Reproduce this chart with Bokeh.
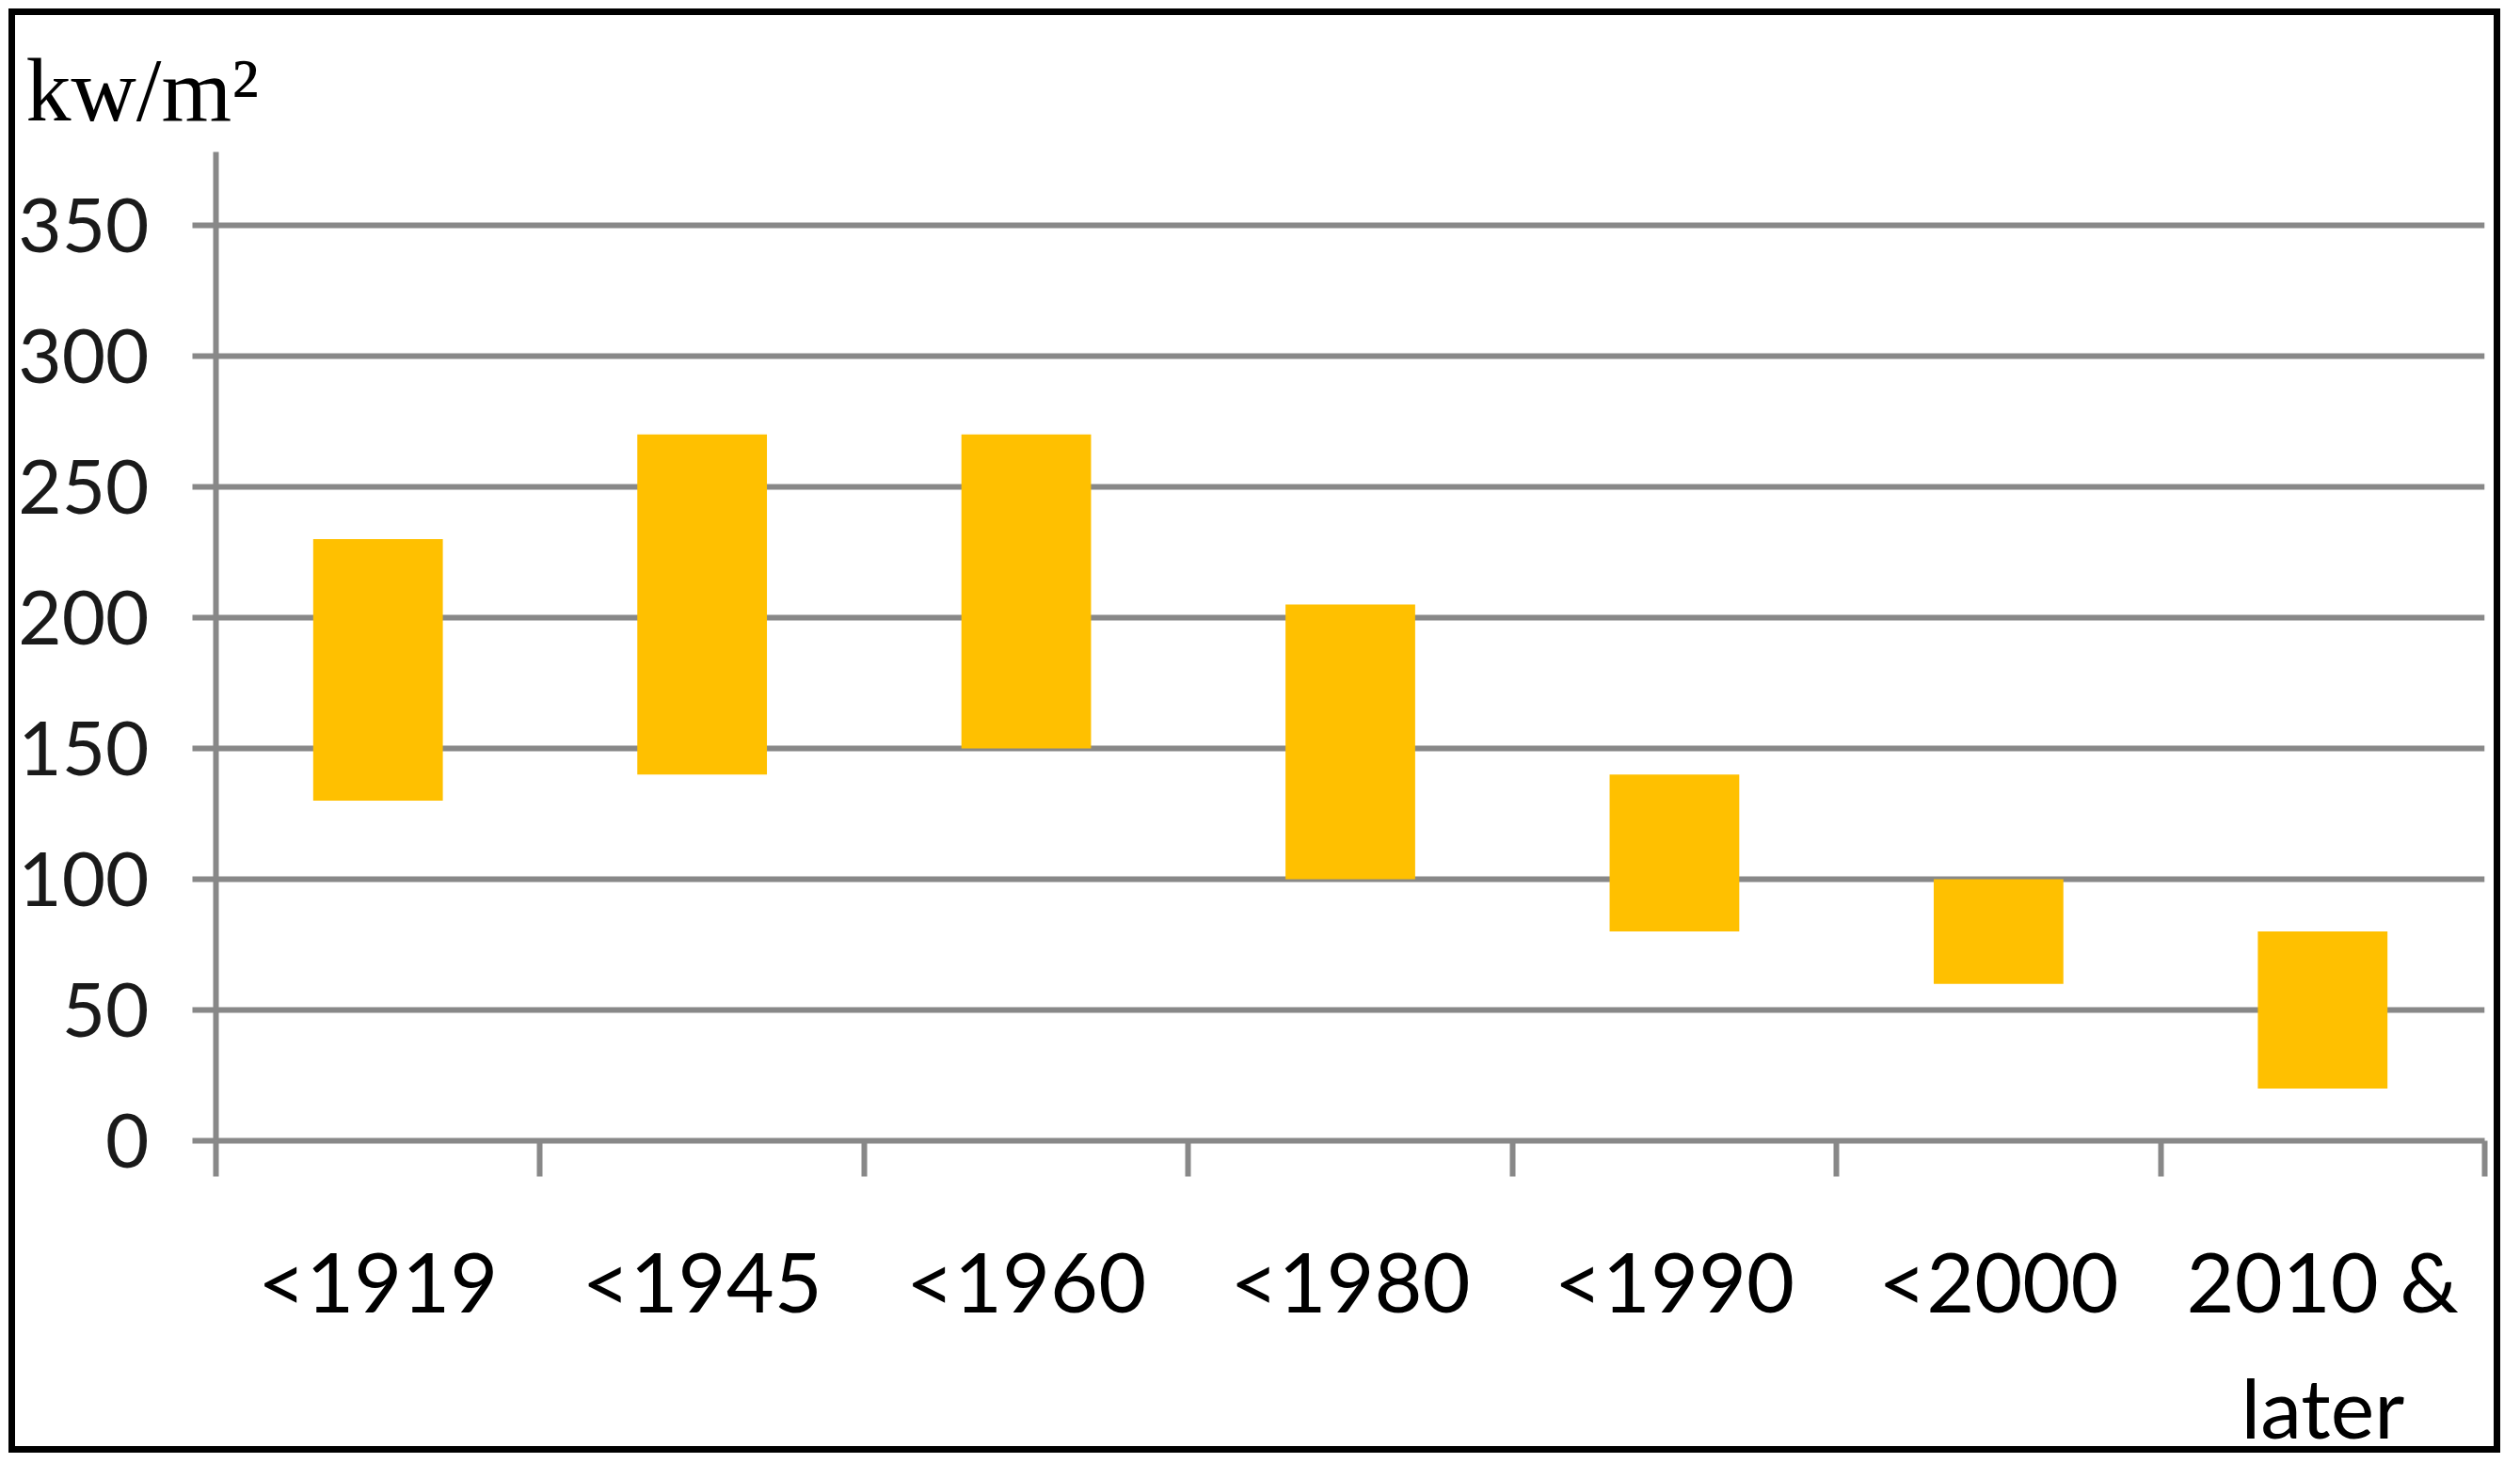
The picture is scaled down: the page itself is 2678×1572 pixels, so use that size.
from bokeh.plotting import figure
from bokeh.models import Range1d, FixedTicker, Title
from bokeh.embed import file_html
from bokeh.resources import INLINE

# ---- data ----
categories = ["<1919", "<1945", "<1960", "<1980", "<1990", "<2000", "2010 &\nlater"]
low_values = [130, 140, 150, 100, 80, 60, 20]
high_values = [230, 270, 270, 205, 140, 100, 80]
y_ticks = [0, 50, 100, 150, 200, 250, 300, 350]
unit_text = "kw/m\u00b2"

n = len(categories)
centers = [i + 0.5 for i in range(n)]
bounds = list(range(n + 1))

GRID = "#888888"
BAR = "#FFC000"

p = figure(width=2648, height=1535, output_backend="svg", toolbar_location=None,
           x_range=Range1d(0, n), y_range=Range1d(0, 378),
           min_border_left=213, min_border_right=24, min_border_top=145, min_border_bottom=328,
           background_fill_color="white", border_fill_color="white")
p.styles = {"border": "7px solid black", "margin-left": "9px", "margin-top": "9px"}
p.outline_line_color = None

p.vbar(x=centers, bottom=low_values, top=high_values, width=0.4,
       fill_color=BAR, line_color=None)

# grid
p.xgrid.visible = False
p.ygrid.grid_line_color = GRID
p.ygrid.grid_line_width = 6

# y axis
ya = p.yaxis[0]
ya.ticker = FixedTicker(ticks=y_ticks, minor_ticks=[])
ya.axis_line_color = GRID
ya.axis_line_width = 6
ya.major_tick_line_color = GRID
ya.major_tick_line_width = 6
ya.major_tick_in = 0
ya.major_tick_out = 25
ya.minor_tick_line_color = None
ya.major_label_text_font = "Lato"
ya.major_label_text_font_size = "80px"
ya.major_label_text_color = "#1a1a1a"
ya.major_label_standoff = 46

# x axis
xa = p.xaxis[0]
xa.ticker = FixedTicker(ticks=centers, minor_ticks=bounds)
xa.major_label_overrides = {c: lab for c, lab in zip(centers, categories)}
xa.axis_line_color = GRID
xa.axis_line_width = 6
xa.major_tick_line_color = None
xa.major_tick_in = 0
xa.major_tick_out = 0
xa.minor_tick_line_color = GRID
xa.minor_tick_line_width = 6
xa.minor_tick_in = 0
xa.minor_tick_out = 38
xa.major_label_text_font = "Lato"
xa.major_label_text_font_size = "88px"
xa.major_label_text_color = "#000000"
xa.major_label_text_line_height = 1.27
xa.major_label_standoff = 57

# unit title
t = Title(text=unit_text, align="left", offset=-202, standoff=26,
          text_font="Liberation Serif", text_font_size="96px",
          text_font_style="normal", text_color="#000000")
p.add_layout(t, "above")

open("out.html", "w").write(file_html(p, INLINE))
